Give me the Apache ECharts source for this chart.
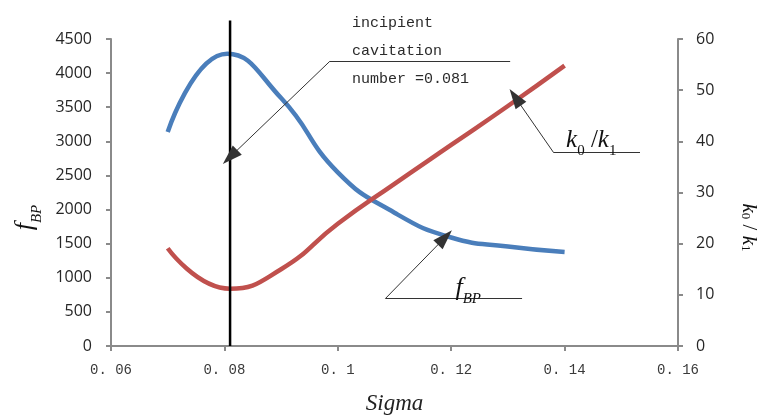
<!DOCTYPE html>
<html>
<head>
<meta charset="utf-8">
<script src="https://cdn.jsdelivr.net/npm/echarts@6/dist/echarts.min.js"></script>
<style>
  html, body { margin: 0; padding: 0; background: #fff; }
  #chart { width: 767px; height: 420px; }
</style>
</head>
<body>
<div id="chart"></div>
<script>
// Cavitation number on the x axis, f_BP (left) and k0/k1 (right)
const sigmaF = [0.070, 0.0805, 0.090, 0.100, 0.110, 0.120, 0.130, 0.140];
const fBP = [3137, 4285, 3634, 2546, 1954, 1590, 1458, 1377];

const sigmaK = [0.070, 0.081, 0.090, 0.100, 0.110, 0.120, 0.130, 0.140];
const k0k1 = [19.1, 11.2, 15.0, 23.9, 31.7, 39.3, 46.9, 54.8];

const xTicks = [0.06, 0.08, 0.10, 0.12, 0.14, 0.16];
const leftTicks = [0, 500, 1000, 1500, 2000, 2500, 3000, 3500, 4000, 4500];
const rightTicks = [0, 10, 20, 30, 40, 50, 60];

// incipient cavitation number marked by the vertical line
const sigmaInc = 0.081;
const incLineTop = 4770;

// leader lines (data coordinates): shelf end, elbow, arrow tip
const incLeader = { tip: [0.081, 2770], elbow: [0.0986, 4174], end: [0.1304, 4174] };
const fLeader = { tip: [0.1189, 1590], elbow: [0.1084, 696], end: [0.1325, 696] };
const kLeader = { tip: [0.1313, 48.6], elbow: [0.138, 37.9], end: [0.1533, 37.9] };

const incText = 'incipient\ncavitation\nnumber =0.081';
const incTextAt = [0.1025, 4330];

const pair = (xs, ys) => xs.map((s, i) => [s, ys[i]]);

const axisGrey = '#8a8a8a';
const monoFont = '"Liberation Mono", monospace';
const serif = '"Liberation Serif", "Times New Roman", serif';
const sans = '"Open Sans", sans-serif';

function leader(L) {
  return [
    [{ coord: L.end, symbol: 'none' }, { coord: L.elbow, symbol: 'none' }],
    [{ coord: L.elbow, symbol: 'none' }, { coord: L.tip, symbol: 'triangle', symbolSize: [13, 20] }]
  ];
}

const mlStyle = { color: '#333', width: 1, type: 'solid' };

const fRich = {
  f: { fontFamily: serif, fontStyle: 'italic', fontSize: 26, color: '#111', verticalAlign: 'bottom', lineHeight: 30 },
  s: { fontFamily: serif, fontStyle: 'italic', fontSize: 15, color: '#111', verticalAlign: 'bottom', lineHeight: 30, padding: [0, 0, -6, 0] }
};
const kRich = {
  k: { fontFamily: serif, fontStyle: 'italic', fontSize: 25, color: '#111', verticalAlign: 'bottom', lineHeight: 30 },
  n: { fontFamily: serif, fontSize: 15, color: '#111', verticalAlign: 'bottom', lineHeight: 30, padding: [0, 0, -5, 0] },
  d: { fontFamily: serif, fontSize: 25, color: '#111', verticalAlign: 'bottom', lineHeight: 30 }
};

const chart = echarts.init(document.getElementById('chart'), null, { renderer: 'canvas' });

chart.setOption({
  animation: false,
  backgroundColor: '#fff',
  grid: { left: 111, right: 75, top: 39, bottom: 64, containLabel: false },
  xAxis: {
    type: 'value', min: xTicks[0], max: xTicks[xTicks.length - 1], interval: 0.02,
    name: 'Sigma', nameLocation: 'middle', nameGap: 46,
    nameTextStyle: { fontFamily: serif, fontStyle: 'italic', fontSize: 23, color: '#222' },
    axisLine: { lineStyle: { color: axisGrey, width: 2 } },
    axisTick: { show: true, length: 5, lineStyle: { color: axisGrey, width: 2 } },
    splitLine: { show: false },
    axisLabel: {
      margin: 17, fontFamily: monoFont, fontSize: 14, color: '#3a3a3a',
      formatter: v => String(+v.toFixed(2)).replace('.', '. ')
    }
  },
  yAxis: [
    {
      type: 'value', min: leftTicks[0], max: leftTicks[leftTicks.length - 1], interval: 500,
      position: 'left',
      name: '{f|f}{s|BP}', nameLocation: 'middle', nameGap: 72, nameRotate: 90,
      nameTextStyle: { rich: fRich, padding: [0, 50, 0, 0] },
      axisLine: { show: true, lineStyle: { color: axisGrey, width: 2 } },
      axisTick: { show: true, length: 5, lineStyle: { color: axisGrey, width: 2 } },
      splitLine: { show: false },
      axisLabel: { margin: 19, fontFamily: sans, fontSize: 16, color: '#262626', formatter: v => String(v) }
    },
    {
      type: 'value', min: rightTicks[0], max: rightTicks[rightTicks.length - 1], interval: 10,
      position: 'right',
      name: '{k|k}{n|0}{d| / }{k|k}{n|1}', nameLocation: 'middle', nameGap: 60, nameRotate: -90,
      nameTextStyle: { rich: {
        k: { fontFamily: serif, fontStyle: 'italic', fontSize: 21, color: '#111' },
        n: { fontFamily: serif, fontSize: 13, color: '#111', padding: [0, 0, -6, 0] },
        d: { fontFamily: serif, fontSize: 21, color: '#111' }
      }, padding: [0, 0, 0, 70] },
      axisLine: { show: true, lineStyle: { color: axisGrey, width: 2 } },
      axisTick: { show: true, length: 5, lineStyle: { color: axisGrey, width: 2 } },
      splitLine: { show: false },
      axisLabel: { margin: 18, fontFamily: sans, fontSize: 16, color: '#262626' }
    }
  ],
  series: [
    {
      name: 'fBP', type: 'line', yAxisIndex: 0, data: pair(sigmaF, fBP),
      smooth: 0.5, symbol: 'none',
      lineStyle: { color: '#4a7ebb', width: 4.5 },
      markLine: {
        silent: true, symbol: 'none', label: { show: false },
        lineStyle: mlStyle,
        data: leader(fLeader).concat(leader(incLeader))
      },
      markPoint: {
        silent: true, symbol: 'circle', symbolSize: 0,
        data: [
          {
            coord: [0.123, 880],
            label: { show: true, formatter: '{f|f}{s|BP}', rich: fRich, position: 'inside' }
          },
          {
            coord: incTextAt,
            label: {
              show: true, position: 'right', distance: 0, formatter: incText,
              fontFamily: monoFont, fontSize: 15, lineHeight: 28, color: '#2b2b2b'
            }
          }
        ]
      },
      z: 3
    },
    {
      name: 'k0k1', type: 'line', yAxisIndex: 1, data: pair(sigmaK, k0k1),
      smooth: 0.5, symbol: 'none',
      lineStyle: { color: '#c0504d', width: 4.5 },
      markLine: {
        silent: true, symbol: 'none', label: { show: false },
        lineStyle: mlStyle,
        data: leader(kLeader)
      },
      markPoint: {
        silent: true, symbol: 'circle', symbolSize: 0,
        data: [{
          coord: [0.1447, 40.6],
          label: { show: true, formatter: '{k|k}{n|0}{d| /}{k|k}{n|1}', rich: kRich, position: 'inside' }
        }]
      },
      z: 3
    },
    {
      name: 'incipient', type: 'line', yAxisIndex: 0,
      data: [[sigmaInc, 0], [sigmaInc, incLineTop]],
      clip: false, symbol: 'none',
      lineStyle: { color: '#000', width: 2.5 },
      z: 4
    }
  ]
});
</script>
</body>
</html>
